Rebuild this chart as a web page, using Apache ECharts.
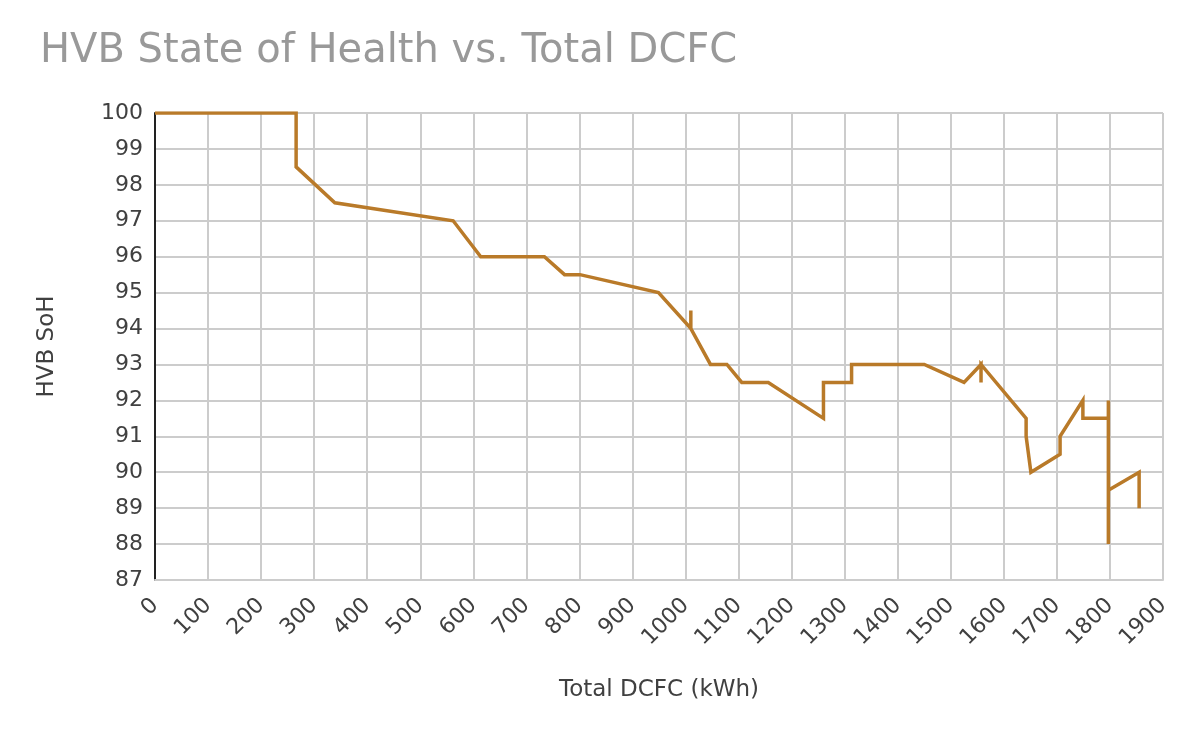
<!DOCTYPE html>
<html>
<head>
<meta charset="utf-8">
<script src="https://cdn.jsdelivr.net/npm/echarts@6/dist/echarts.min.js"></script>
<style>
  html, body { margin: 0; padding: 0; background: #fff; }
  #chart { width: 1200px; height: 742px; }
</style>
</head>
<body>
<div id="chart"></div>
<script>
// total DC fast charging energy (kWh) and battery state of health (%)
const dcfcKwh = [
  0, 266, 266, 339, 562, 614, 734, 772, 801, 949,
  1010, 1010, 1010, 1047, 1078, 1106, 1156, 1260, 1260, 1313,
  1313, 1450, 1525, 1557, 1557, 1557, 1642, 1642, 1651, 1706,
  1706, 1749, 1749, 1797, 1797, 1797, 1797, 1855, 1855
];
const sohPct = [
  100, 100, 98.5, 97.5, 97, 96, 96, 95.5, 95.5, 95,
  94, 94.5, 94, 93, 93, 92.5, 92.5, 91.5, 92.5, 92.5,
  93, 93, 92.5, 93, 92.5, 93, 91.5, 91, 90, 90.5,
  91, 92, 91.5, 91.5, 92, 88, 89.5, 90, 89
];

const xTicks = { min: 0, max: 1900, step: 100 };
const yTicks = { min: 87, max: 100, step: 1 };

const chart = echarts.init(document.getElementById('chart'));

const font = 'Verdana, "DejaVu Sans", sans-serif';

const option = {
  animation: false,
  title: {
    text: 'HVB State of Health vs. Total DCFC',
    left: 35,
    top: 27,
    textStyle: { color: '#999999', fontSize: 40, fontWeight: 'normal', fontFamily: font }
  },
  grid: { left: 155, right: 37, top: 113, bottom: 162 },
  xAxis: {
    type: 'value',
    min: xTicks.min,
    max: xTicks.max,
    interval: xTicks.step,
    name: 'Total DCFC (kWh)',
    nameLocation: 'middle',
    nameGap: 99,
    nameTextStyle: { color: '#404040', fontSize: 23, fontFamily: font },
    axisLine: { show: true, lineStyle: { color: '#cccccc', width: 2 } },
    axisTick: { show: false },
    axisLabel: {
      rotate: 45, margin: 22, color: '#404040', fontSize: 22, fontFamily: font,
      formatter: v => String(v)
    },
    splitLine: { show: true, lineStyle: { color: '#cccccc', width: 2 } }
  },
  yAxis: {
    type: 'value',
    min: yTicks.min,
    max: yTicks.max,
    interval: yTicks.step,
    name: 'HVB SoH',
    nameLocation: 'middle',
    nameGap: 96,
    nameRotate: 90,
    nameTextStyle: { color: '#404040', fontSize: 23, fontFamily: font },
    axisLine: { show: true, lineStyle: { color: '#222222', width: 2 } },
    axisTick: { show: false },
    axisLabel: { margin: 12, color: '#404040', fontSize: 22, fontFamily: font },
    splitLine: { show: true, lineStyle: { color: '#cccccc', width: 2 } }
  },
  series: [{
    type: 'line',
    data: dcfcKwh.map((x, i) => [x, sohPct[i]]),
    showSymbol: false,
    lineStyle: { color: '#b97a29', width: 3.5, join: 'miter' },
    itemStyle: { color: '#b97a29' }
  }]
};

chart.setOption(option);
</script>
</body>
</html>
